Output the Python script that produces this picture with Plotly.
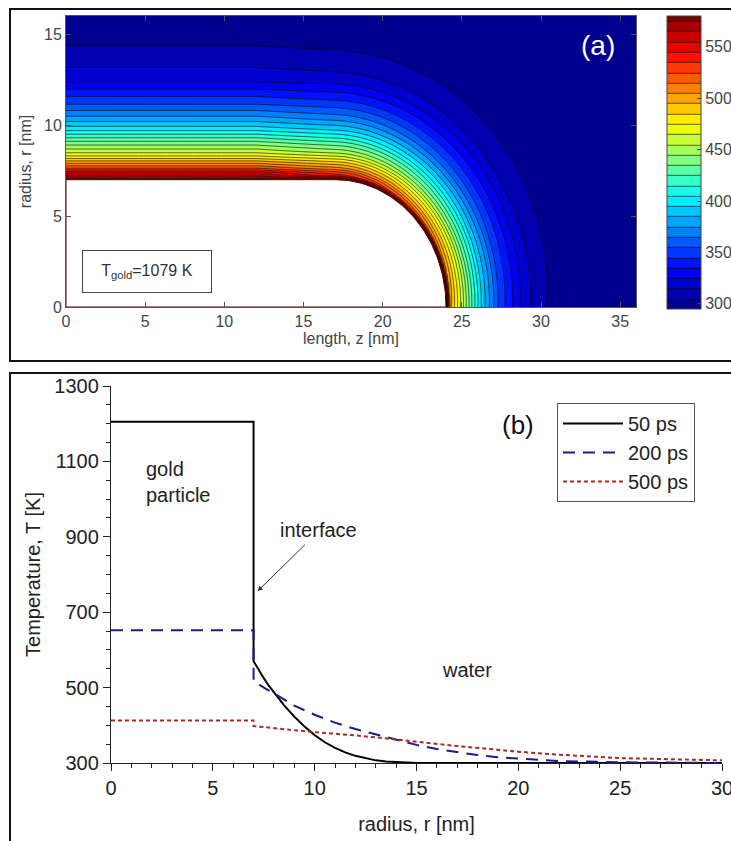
import numpy as np
import plotly.graph_objects as go

# body margin is removed by a small post-script, so paper pixels == page pixels
OFF = 0
FW, FH = 731, 841


def fx(px):
    return (px - OFF) / FW


def fy(py):
    return 1 - (py - OFF) / FH


# ---------------- Panel (a): temperature field around the gold rod ----------------
rod_radius = 7.0          # nm
rod_half_length = 17.0    # nm (cylindrical part, cap added beyond)
end_effect_start = 12.0   # nm, where contours start bending toward the tip
# temperature vs distance from rod surface, read along r at z=0 (side) and along z at r=0 (tip)
side_dist = [0, 0.36, 0.63, 0.9, 1.26, 1.53, 1.8, 2.17, 2.44, 2.8, 3.25, 3.7, 4.15, 4.78, 5.5, 7.04, 9.0, 14.0]
side_temp = [580, 555, 525, 505, 478, 462, 450, 432, 418, 400, 383, 368, 355, 340, 322, 306, 300, 299]
tip_dist = [0, 0.25, 1.05, 1.68, 2.32, 3.37, 4.84, 6.0, 8.0, 14.0]
tip_temp = [580, 500, 458, 422, 390, 352, 322, 306, 300, 299]
z_grid = np.linspace(0, 36, 361)
r_grid = np.linspace(0, 16, 321)
cbar_ticks = [300, 350, 400, 450, 500, 550]
gold_label = "T<sub>gold</sub>=1079 K"

# ---------------- Panel (b): radial temperature profiles ----------------
r_50 = [0, 7, 7, 7.25, 7.5, 7.75, 8, 8.5, 9, 9.5, 10, 10.5, 11, 11.5, 12, 12.5, 13, 13.5, 14, 14.5, 15, 20, 25, 30]
T_50 = [1205, 1205, 570, 547, 525, 505, 487, 453, 423, 397, 374, 355, 340, 328, 319, 312, 307, 304, 302, 301, 300, 300, 300, 300]
r_200 = [0, 7, 7, 7.5, 8, 9, 10, 11, 12, 13, 14, 15, 16, 17, 18, 19, 20, 22, 25, 30]
T_200 = [652, 652, 518, 500, 485, 452, 428, 407, 390, 376, 362, 348, 337, 328, 321, 315, 311, 305, 302, 300]
r_500 = [0, 7, 7, 8, 9, 10, 11, 12, 13, 14, 15, 17, 20, 22, 25, 28, 30]
T_500 = [413, 413, 398, 392, 387, 382, 378, 373, 368, 362, 356, 345, 330, 322, 313, 309, 307]
series_names = ["50 ps", "200 ps", "500 ps"]

# ---------------- build field ----------------
ZZ, RR = np.meshgrid(z_grid, r_grid)
dz = np.clip(ZZ - rod_half_length, 0, None)
dist = np.sqrt(dz ** 2 + RR ** 2)
d_surf = np.where(ZZ <= rod_half_length, RR - rod_radius, dist - rod_radius)
theta = np.arctan2(np.clip(ZZ - end_effect_start, 0, None), RR)
w = theta / (np.pi / 2)
dd = np.clip(d_surf, 0, None)
T_field = (1 - w) * np.interp(dd, side_dist, side_temp) + w * np.interp(dd, tip_dist, tip_temp)
T_field = np.where(d_surf < 0, side_temp[0], T_field)

jet = [[0.0, "#00008f"], [0.125, "#0000ff"], [0.375, "#00ffff"],
       [0.625, "#ffff00"], [0.875, "#ff0000"], [1.0, "#800000"]]

fig = go.Figure()
fig.add_trace(go.Contour(
    x=z_grid, y=r_grid, z=T_field, xaxis="x", yaxis="y",
    colorscale=jet, zmin=295, zmax=580, zauto=False,
    contours=dict(start=305, end=575, size=10, coloring="fill"),
    line=dict(color="black", width=0.6),
    hoverinfo="skip", showlegend=False,
    colorbar=dict(x=fx(667), xanchor="left", y=fy(16), yanchor="top",
                  len=(309 - 16) / FH, lenmode="fraction", thickness=34, thicknessmode="pixels",
                  xpad=0, ypad=0, outlinewidth=1, outlinecolor="#444",
                  tickvals=cbar_ticks, ticks="inside", ticklen=4, tickcolor="#444",
                  tickfont=dict(family="Liberation Sans", size=16, color="#444")),
))

# white rod body
cap_ang = np.linspace(np.pi / 2, 0, 60)
rod_z = np.concatenate([[0, 0], rod_half_length + rod_radius * np.cos(cap_ang), [0]])
rod_r = np.concatenate([[0, rod_radius], rod_radius * np.sin(cap_ang), [0]])
fig.add_trace(go.Scatter(x=rod_z, y=rod_r, xaxis="x", yaxis="y", mode="lines",
                         fill="toself", fillcolor="white", line=dict(color="#5a0000", width=1),
                         hoverinfo="skip", showlegend=False))

# panel (b) curves
fig.add_trace(go.Scatter(x=r_50, y=T_50, xaxis="x2", yaxis="y2", mode="lines", name=series_names[0],
                         line=dict(color="black", width=2)))
fig.add_trace(go.Scatter(x=r_200, y=T_200, xaxis="x2", yaxis="y2", mode="lines", name=series_names[1],
                         line=dict(color="#1c1c8a", width=2, dash="12px,8px")))
fig.add_trace(go.Scatter(x=r_500, y=T_500, xaxis="x2", yaxis="y2", mode="lines", name=series_names[2],
                         line=dict(color="#a52a2a", width=2, dash="4px,3px")))

fa = dict(family="Liberation Sans", size=16, color="#444")
fb = dict(family="Liberation Sans", size=20, color="#222")

fig.update_layout(
    width=FW, height=FH, margin=dict(l=0, r=0, t=0, b=0, autoexpand=False),
    paper_bgcolor="white", plot_bgcolor="rgba(0,0,0,0)",
    font=fb,
    xaxis=dict(domain=[fx(66), fx(636)], anchor="y", range=[0, 36], dtick=5, tick0=0,
               ticks="inside", ticklen=5, tickcolor="#555", showline=True, linecolor="#555",
               linewidth=1, mirror="ticks", showgrid=False, zeroline=False, tickfont=fa,
               title=dict(text="length, z [nm]", font=dict(family="Liberation Sans", size=16, color="#444"), standoff=2)),
    yaxis=dict(domain=[fy(307), fy(16)], anchor="x", range=[0, 16], dtick=5, tick0=0,
               ticks="inside", ticklen=5, tickcolor="#555", showline=True, linecolor="#555",
               linewidth=1, mirror="ticks", showgrid=False, zeroline=False, tickfont=fa,
               title=dict(text="radius, r [nm]", font=dict(family="Liberation Sans", size=16, color="#444"), standoff=8)),
    xaxis2=dict(domain=[fx(111), fx(722)], anchor="y2", range=[0, 30], dtick=5, tick0=0,
                ticks="outside", ticklen=7, tickcolor="#222", showline=True, linecolor="#222",
                linewidth=1.3, showgrid=False, zeroline=False, tickfont=fb, ticklabeloverflow="allow",
                minor=dict(dtick=1, ticks="outside", ticklen=4, tickcolor="#222"),
                title=dict(text="radius, r [nm]", font=fb, standoff=18)),
    yaxis2=dict(domain=[fy(763), fy(386)], anchor="x2", range=[300, 1300], dtick=200, tick0=300,
                ticks="outside", ticklen=7, tickcolor="#222", showline=True, linecolor="#222",
                linewidth=1.3, showgrid=False, zeroline=False, tickfont=fb,
                minor=dict(dtick=50, ticks="outside", ticklen=4, tickcolor="#222"),
                title=dict(text="Temperature, T [K]", font=fb, standoff=8)),
    xaxis3=dict(overlaying="x2", anchor="y2", side="top", range=[0, 30], dtick=5, tick0=0,
                ticks="inside", ticklen=7, tickcolor="#222", showline=True, linecolor="#222",
                linewidth=1.3, showgrid=False, zeroline=False, showticklabels=False,
                minor=dict(dtick=1, ticks="inside", ticklen=4, tickcolor="#222")),
    yaxis3=dict(overlaying="y2", anchor="x2", side="right", range=[300, 1300], dtick=200, tick0=300,
                ticks="inside", ticklen=7, tickcolor="#222", showline=True, linecolor="#222",
                linewidth=1.3, showgrid=False, zeroline=False, showticklabels=False,
                minor=dict(dtick=50, ticks="inside", ticklen=4, tickcolor="#222")),
    legend=dict(x=fx(557), y=fy(403), xanchor="left", yanchor="top", itemwidth=60,
                bgcolor="white", bordercolor="#555", borderwidth=1,
                font=dict(family="Liberation Sans", size=20, color="#222"), tracegroupgap=0),
    shapes=[
        dict(type="rect", xref="paper", yref="paper", x0=fx(10), x1=1.05, y0=fy(361), y1=fy(9),
             line=dict(color="#111", width=2)),
        dict(type="rect", xref="paper", yref="paper", x0=fx(10), x1=1.05, y0=-0.05, y1=fy(373),
             line=dict(color="#111", width=2)),
    ],
    annotations=[
        dict(text=gold_label, xref="paper", yref="paper", x=fx(147), y=fy(271), xanchor="center",
             yanchor="middle", showarrow=False,
             width=126, height=39, bordercolor="#444", borderwidth=1, bgcolor="white", borderpad=1,
             font=dict(family="Liberation Sans", size=16, color="#333")),
        dict(text="(a)", xref="paper", yref="paper", x=fx(598), y=fy(46), xanchor="center",
             yanchor="middle", showarrow=False,
             font=dict(family="Liberation Sans", size=28, color="white")),
        dict(text="(b)", xref="x2", yref="y2", x=20.0, y=1197, showarrow=False,
             font=dict(family="Liberation Sans", size=26, color="#111")),
        dict(text="gold<br>particle", xref="x2", yref="y2", x=1.6, y=1045, showarrow=False,
             xanchor="left", align="left", font=fb),
        dict(text="interface", xref="x2", yref="y2", x=10.2, y=918, showarrow=False, font=fb),
        dict(text="water", xref="x2", yref="y2", x=17.5, y=547, showarrow=False, font=fb),
        dict(text="", xref="x2", yref="y2", x=7.2, y=756, axref="x2", ayref="y2", ax=9.6, ay=883,
             showarrow=True, arrowhead=2, arrowsize=1, arrowwidth=1, arrowcolor="#333"),
    ],
)

fig.write_html("out.html", config={"displayModeBar": False},
               post_script="document.body.style.margin='0px';")
